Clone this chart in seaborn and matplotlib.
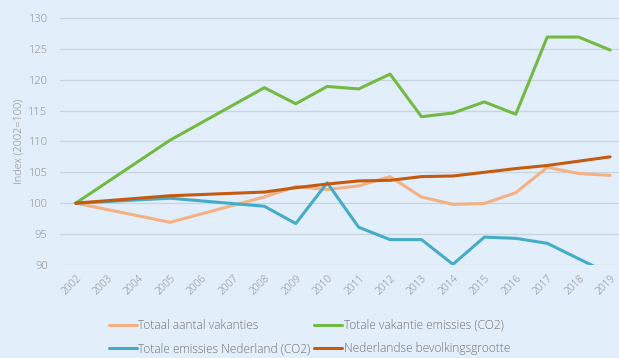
import numpy as np
import pandas as pd
import matplotlib
matplotlib.use("Agg")
import matplotlib.pyplot as plt
import seaborn as sns

# Index values (2002 = 100); None where no figure is available for that year
years = list(range(2002, 2020))
totaal_vakanties = [100, None, None, 96.9, None, None, 101.0, 102.7, 102.2, 102.8,
                    104.3, 101.0, 99.8, 99.95, 101.7, 105.8, 104.8, 104.5]
vakantie_emissies = [100, None, None, 110.2, None, None, 118.7, 116.1, 118.9, 118.5,
                     120.9, 114.0, 114.6, 116.4, 114.4, 126.9, 126.9, 124.8]
emissies_nederland = [100, None, None, 100.8, None, None, 99.5, 96.7, 103.3, 96.1,
                      94.1, 94.1, 90.1, 94.5, 94.3, 93.5, 91.0, 88.5]
bevolking = [100, None, None, 101.2, None, None, 101.8, 102.5, 103.1, 103.6,
             103.7, 104.3, 104.4, 105.0, 105.6, 106.1, 106.8, 107.5]

series_names = ["Totaal aantal vakanties", "Totale vakantie emissies (CO2)",
                "Totale emissies Nederland (CO2)", "Nederlandse bevolkingsgrootte"]
series_values = [totaal_vakanties, vakantie_emissies, emissies_nederland, bevolking]
colors = ["#F4B183", "#74B944", "#45ACC8", "#C55A11"]
y_ticks = [90, 95, 100, 105, 110, 115, 120, 125, 130]

frames = [pd.DataFrame({"jaar": years, "index": vals, "reeks": name})
          for name, vals in zip(series_names, series_values)]
df = pd.concat(frames, ignore_index=True).dropna()

sns.set_theme(style="white")
plt.rcParams["font.family"] = ["Open Sans", "DejaVu Sans"]

bg = "#E2EEF9"
txt = "#8A8A8A"
fig = plt.figure(figsize=(6.19, 3.58), dpi=100, facecolor=bg)
ax = fig.add_axes([0.097, 0.26, 0.914, 0.69])
ax.set_facecolor(bg)

for i, (name, col) in enumerate(zip(series_names, colors)):
    sub = df[df["reeks"] == name]
    sns.lineplot(data=sub, x="jaar", y="index", color=col, linewidth=2.2,
                 label=name, ax=ax, zorder=3 + i)

ax.set_xlim(2001.5, 2019.5)
ax.set_ylim(90, 130)
ax.set_yticks(y_ticks)
ax.set_xticks(years)
ax.set_xticklabels([str(y) for y in years], rotation=45, ha="right",
                   rotation_mode="anchor", fontsize=7.3, color=txt,
                   fontweight="light")
ax.set_yticklabels([str(v) for v in y_ticks], fontsize=8, color=txt,
                   fontweight="light")
ax.tick_params(axis="y", length=0, pad=9)
ax.tick_params(axis="x", length=0, pad=6)
ax.grid(axis="y", color="#C9D3DC", linewidth=0.9)
ax.grid(axis="x", visible=False)
for s in ax.spines.values():
    s.set_visible(False)
ax.set_xlabel("")
ax.set_ylabel("Index (2002=100)", fontsize=7.8, color=txt, labelpad=3,
              fontweight="light")

handles, labels = ax.get_legend_handles_labels()
order = [0, 2, 1, 3]
leg = ax.legend([handles[k] for k in order], [labels[k] for k in order],
                ncol=2, frameon=False, loc="lower left",
                bbox_to_anchor=(0.158, -0.022), bbox_transform=fig.transFigure,
                labelcolor="#737373", handlelength=2.4,
                handletextpad=0.1, columnspacing=0.25, labelspacing=0.85,
                prop={"weight": "light", "size": 8.6})

fig.savefig("out.png", dpi=100, facecolor=bg)
